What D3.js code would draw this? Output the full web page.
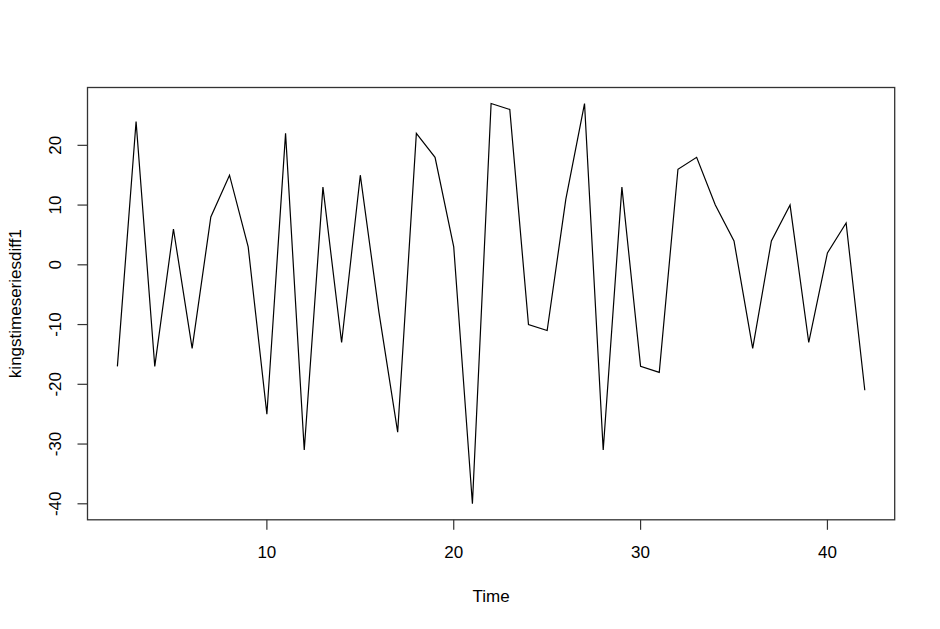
<!DOCTYPE html>
<html><head><meta charset="utf-8">
<script src="https://cdn.jsdelivr.net/npm/d3@7"></script>
<style>body{margin:0;background:#fff}svg{display:block}text{font-family:"Liberation Sans",Arial,sans-serif;fill:#000}</style>
</head><body><svg id="c" width="940" height="629"></svg>
<script>
const times = d3.range(2, 43);
const values = [-17,24,-17,6,-14,8,15,3,-25,22,-31,13,-13,15,-8,-28,22,18,3,-40,27,26,-10,-11,11,27,-31,13,-17,-18,16,18,10,4,-14,4,10,-13,2,7,-21];
const xTicks = [10,20,30,40];
const yTicks = [-40,-30,-20,-10,0,10,20];
const xLabel = "Time", yLabel = "kingstimeseriesdiff1";

const svg = d3.select("#c");
const L=87.5, R=894.7, T=87.5, B=519.8;
const xs = d3.scaleLinear().domain([0.4, 43.6]).range([L, R]);
const ys = d3.scaleLinear().domain([-42.68, 29.68]).range([B, T]);

const data = times.map((t,i)=>[t, values[i]]);
svg.append("path").datum(data)
  .attr("fill","none").attr("stroke","#000").attr("stroke-width",1.2)
  .attr("d", d3.line().x(d=>xs(d[0])).y(d=>ys(d[1])));

svg.append("rect").attr("x",L).attr("y",T).attr("width",R-L).attr("height",B-T)
  .attr("fill","none").attr("stroke","#333").attr("stroke-width",1.3);

const fs = 17;
const xg = svg.append("g").attr("transform",`translate(0,${B})`);
xg.selectAll("line").data(xTicks).join("line")
  .attr("x1",d=>xs(d)).attr("x2",d=>xs(d)).attr("y1",0).attr("y2",10)
  .attr("stroke","#333").attr("stroke-width",1.2);
xg.selectAll("text").data(xTicks).join("text")
  .attr("x",d=>xs(d)).attr("y",38).attr("text-anchor","middle").attr("font-size",fs).text(d=>d);

const yg = svg.append("g").attr("transform",`translate(${L},0)`);
yg.selectAll("line").data(yTicks).join("line")
  .attr("y1",d=>ys(d)).attr("y2",d=>ys(d)).attr("x1",0).attr("x2",-10)
  .attr("stroke","#333").attr("stroke-width",1.2);
yg.selectAll("text").data(yTicks).join("text")
  .attr("transform",d=>`translate(-27,${ys(d)}) rotate(-90)`)
  .attr("text-anchor","middle").attr("font-size",fs).text(d=>d);

svg.append("text").attr("x",(L+R)/2).attr("y",602).attr("text-anchor","middle").attr("font-size",fs).text(xLabel);
svg.append("text").attr("transform",`translate(21,${(T+B)/2}) rotate(-90)`).attr("text-anchor","middle").attr("font-size",fs).text(yLabel);
</script></body></html>
